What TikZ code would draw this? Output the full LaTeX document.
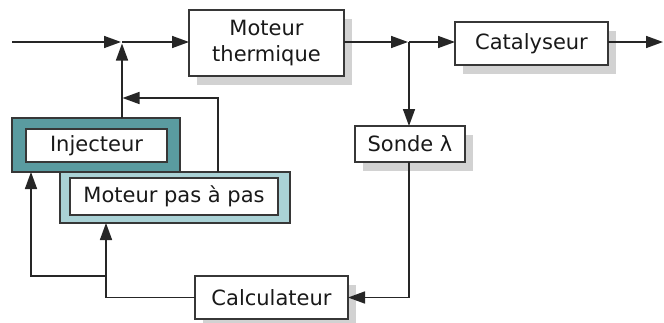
\documentclass[tikz,border=0pt]{standalone}
\usepackage{fontspec}
\setmainfont{DejaVu Sans}
\usetikzlibrary{arrows.meta,shadows,calc}
\definecolor{tealdark}{RGB}{90,155,160}
\definecolor{teallight}{RGB}{170,210,214}
\definecolor{edge}{RGB}{55,55,55}
\definecolor{shade}{RGB}{210,210,210}
\begin{document}
\begin{tikzpicture}[x=1pt,y=-1pt,
  every node/.style={inner sep=0pt,outer sep=0pt,font=\fontsize{21}{26}\selectfont,text=black!90},
  block/.style={draw=edge,line width=1.3pt,fill=white,align=center,
    drop shadow={shadow xshift=8pt,shadow yshift=-9pt,fill=shade,opacity=1}},
  outerbox/.style={draw=edge,line width=1.3pt},
  innerbox/.style={draw=edge,line width=1.1pt,fill=white},
  conn/.style={draw=black!85,line width=1.6pt},
  arr/.style={conn,-{Triangle[length=17pt,width=12pt]}}]
\useasboundingbox (0,0) rectangle (664,322);
% blocks
\node[block,minimum width=155,minimum height=66] (mt) at (266.5,43) {Moteur\\thermique};
\node[block,minimum width=153,minimum height=43] (cat) at (531.5,43.5) {Catalyseur};
\node[block,minimum width=110,minimum height=36] (sonde) at (410,144) {Sonde λ};
\node[block,minimum width=153,minimum height=43] (calc) at (271.5,297.5) {Calculateur};
% teal boxes
\node[outerbox,fill=tealdark,minimum width=168,minimum height=54] (inj) at (96,145) {};
\node[innerbox,minimum width=141,minimum height=33] (injin) at (96.5,145.5) {Injecteur};
\node[outerbox,fill=teallight,minimum width=230,minimum height=51] (mpp) at (175,197.5) {};
\node[innerbox,minimum width=208,minimum height=37] (mppin) at (174,196.5) {Moteur pas à pas};
% coordinates
\coordinate (start) at (12,42);
\coordinate (j1) at (122,42);
\coordinate (j2) at (409,42);
\coordinate (endp) at (663,42);
\coordinate (k1) at (122,98);
\coordinate (k2) at (218,98);
\coordinate (b1) at (106,276);
\coordinate (b2) at (31,276);
% main line
\draw[arr] (start) -- ($(j1)+(-1,0)$);
\draw[arr] (j1) -- (mt.west |- j1);
\draw[arr] (mt.east |- j2) -- ($(j2)+(-1,0)$);
\draw[arr] (j2) -- (cat.west |- j2);
\draw[arr] (cat.east |- endp) -- (endp);
% sonde
\draw[arr] (j2) -- (j2 |- sonde.north);
\draw[arr] (j2 |- sonde.south) -- (j2 |- calc) -- (calc.east);
% injecteur to junction
\draw[arr] (inj.north -| j1) -- ($(j1)+(0,1.5)$);
\draw[arr] (k2 |- mpp.north) -- (k2) -- ($(k1)+(0.5,0)$);
% calculateur feedback
\draw[conn] (calc.west) -| (b1);
\draw[arr] (b1) -- (b1 |- mpp.south);
\draw[arr] (b1) -- (b2) -- (b2 |- inj.south);
\end{tikzpicture}
\end{document}
